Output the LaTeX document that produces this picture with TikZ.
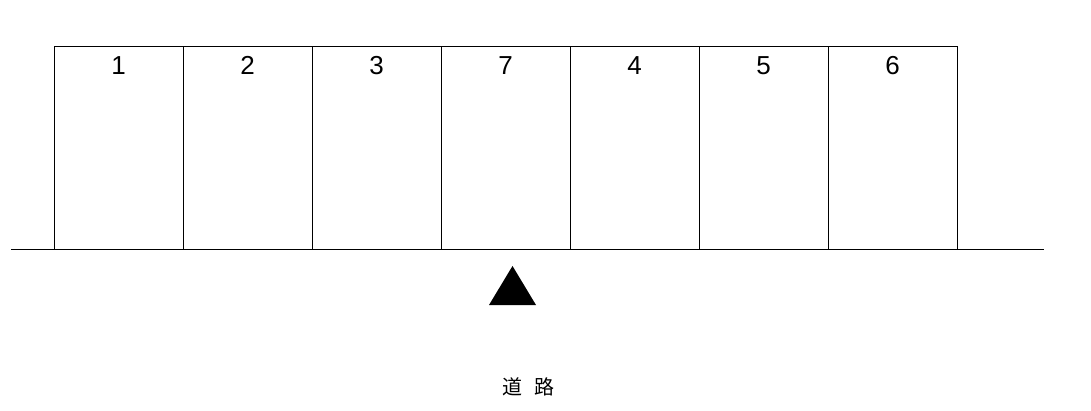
\documentclass[tikz,border=0pt]{standalone}
\usepackage{fontspec}
\setmainfont{Liberation Sans}
\newfontfamily\cjk{Noto Sans CJK JP}
\begin{document}
\begin{tikzpicture}[x=1pt,y=-1pt,
  lot/.style={draw=black,line width=1pt,minimum width=129pt,minimum height=203pt,inner sep=0pt,anchor=north west},
  num/.style={font=\fontsize{26}{26}\selectfont,inner sep=0pt,anchor=base}]
\useasboundingbox (0,0) rectangle (1091,411);
\foreach \lab [count=\i from 0] in {1,2,3,7,4,5,6}{
  \node[lot] (b\i) at ({54+129*\i},46) {};
  \node[num] (n\i) at ({118.5+129*\i},75) {\lab};
}
\coordinate (rl) at (11,250);
\coordinate (rr) at (1044,250);
\draw[line width=1pt] (rl) -- (rr);
\coordinate (t1) at (489,305);
\coordinate (t2) at (536,305);
\coordinate (t3) at (512.5,266);
\fill[black] (t1) -- (t2) -- (t3) -- cycle;
\node[inner sep=0pt,font=\cjk\fontsize{20}{20}\selectfont] (road) at (528,387) {道\hspace{0.6em}路};
\end{tikzpicture}
\end{document}
